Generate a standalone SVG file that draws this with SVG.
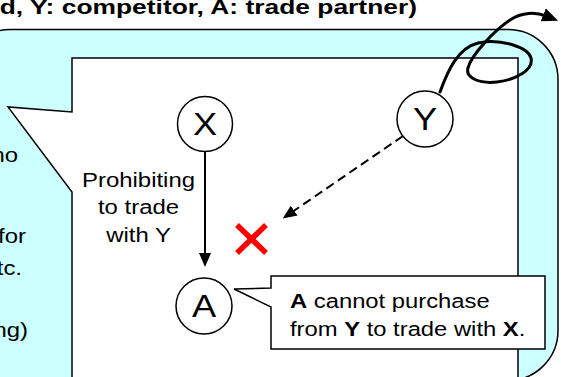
<svg xmlns="http://www.w3.org/2000/svg" width="561" height="377" viewBox="0 0 561 377">
  <style>
    .txt { font-family: "Liberation Sans", Arial, sans-serif; fill: #000; }
    .b { font-weight: bold; }
    .panel { fill: #CCFFFF; stroke: #000; stroke-width: 1.5; }
    .box { fill: #fff; stroke: #000; stroke-width: 1.5; }
    .node { fill: #fff; stroke: #000; stroke-width: 1.5; }
    .edge { fill: none; stroke: #000; stroke-width: 2; }
    .dash { stroke-dasharray: 9 5; }
    .swirl { fill: none; stroke: #000; stroke-width: 3; stroke-linecap: round; }
    .cross { stroke: #FF0000; stroke-width: 5.5; }
  </style>
  <defs>
    <marker id="arrow" viewBox="0 0 14 12" refX="4" refY="6" markerWidth="14" markerHeight="12" orient="auto" markerUnits="userSpaceOnUse">
      <path d="M0,0 L14,6 L0,12 Z" fill="#000"/>
    </marker>
    <marker id="arrowBig" viewBox="0 0 16 14" refX="3" refY="7" markerWidth="16" markerHeight="14" orient="auto" markerUnits="userSpaceOnUse">
      <path d="M0,0 L16,7 L0,14 Z" fill="#000"/>
    </marker>
  </defs>

  <!-- heading (starts beyond the left edge) -->
  <text class="txt b" font-size="20" text-anchor="end" transform="translate(417,14) scale(1.32,1)">d, Y: competitor, A: trade partner)</text>

  <!-- rounded background panel -->
  <rect id="panel" class="panel" x="-40" y="29.5" width="598" height="351" rx="50" ry="50"/>

  <!-- left column text, mostly outside the view -->
  <g id="side-text" class="txt" font-size="21">
    <text text-anchor="end" transform="translate(18,162) scale(1.14,1)">no</text>
    <text text-anchor="end" transform="translate(26,243) scale(1.14,1)">for</text>
    <text text-anchor="end" transform="translate(22,275) scale(1.14,1)">tc.</text>
    <text text-anchor="end" transform="translate(28,337) scale(1.14,1)">ng)</text>
  </g>

  <!-- large callout pointing left -->
  <g id="callout-main">
    <path class="box" d="M72,58 H518 V392 H72 V192 L8,107 L72,112 Z"/>
  </g>

  <!-- edge label -->
  <g id="label-prohibit" class="txt" font-size="21" text-anchor="middle">
    <text transform="translate(138.5,187) scale(1.14,1)">Prohibiting</text>
    <text transform="translate(138.5,214) scale(1.14,1)">to trade</text>
    <text transform="translate(138.5,242) scale(1.14,1)">with Y</text>
  </g>

  <!-- connectors -->
  <g id="connectors">
    <path class="edge" d="M205,151.5 V257" marker-end="url(#arrow)"/>
    <path class="edge dash" d="M403,136 L290.9,212.9" marker-end="url(#arrow)"/>
    <path class="swirl" d="M440,92 C448,70 458,48 478,43 C500,38 528,47 531,58 C534,70 515,80 497,82 C480,84 465,78 468,68 C471,55 495,30 510,20 C522,12 536,12 546,16" marker-end="url(#arrowBig)"/>
  </g>

  <!-- nodes -->
  <g id="node-x">
    <circle class="node" cx="205" cy="124" r="27.5"/>
    <text class="txt" font-size="31" text-anchor="middle" transform="translate(205,135) scale(1.17,1)">X</text>
  </g>
  <g id="node-y">
    <circle class="node" cx="425" cy="119" r="28"/>
    <text class="txt" font-size="31" text-anchor="middle" transform="translate(425,130) scale(1.17,1)">Y</text>
  </g>
  <g id="node-a">
    <circle class="node" cx="204" cy="306" r="28"/>
    <text class="txt" font-size="31" text-anchor="middle" transform="translate(204,317) scale(1.17,1)">A</text>
  </g>

  <!-- blocked mark -->
  <g id="blocked">
    <line class="cross" x1="237" y1="225" x2="266" y2="253"/>
    <line class="cross" x1="266" y1="225" x2="237" y2="253"/>
  </g>

  <!-- note callout -->
  <g id="callout-note">
    <path class="box" d="M271,276 H545 V349 H271 V307 L234,289 L271,288 Z"/>
    <text class="txt" font-size="20" transform="translate(290,307.5) scale(1.19,1)"><tspan class="b">A</tspan> cannot purchase</text>
    <text class="txt" font-size="20" transform="translate(290,336) scale(1.19,1)">from <tspan class="b">Y</tspan> to trade with <tspan class="b">X</tspan>.</text>
  </g>
</svg>
